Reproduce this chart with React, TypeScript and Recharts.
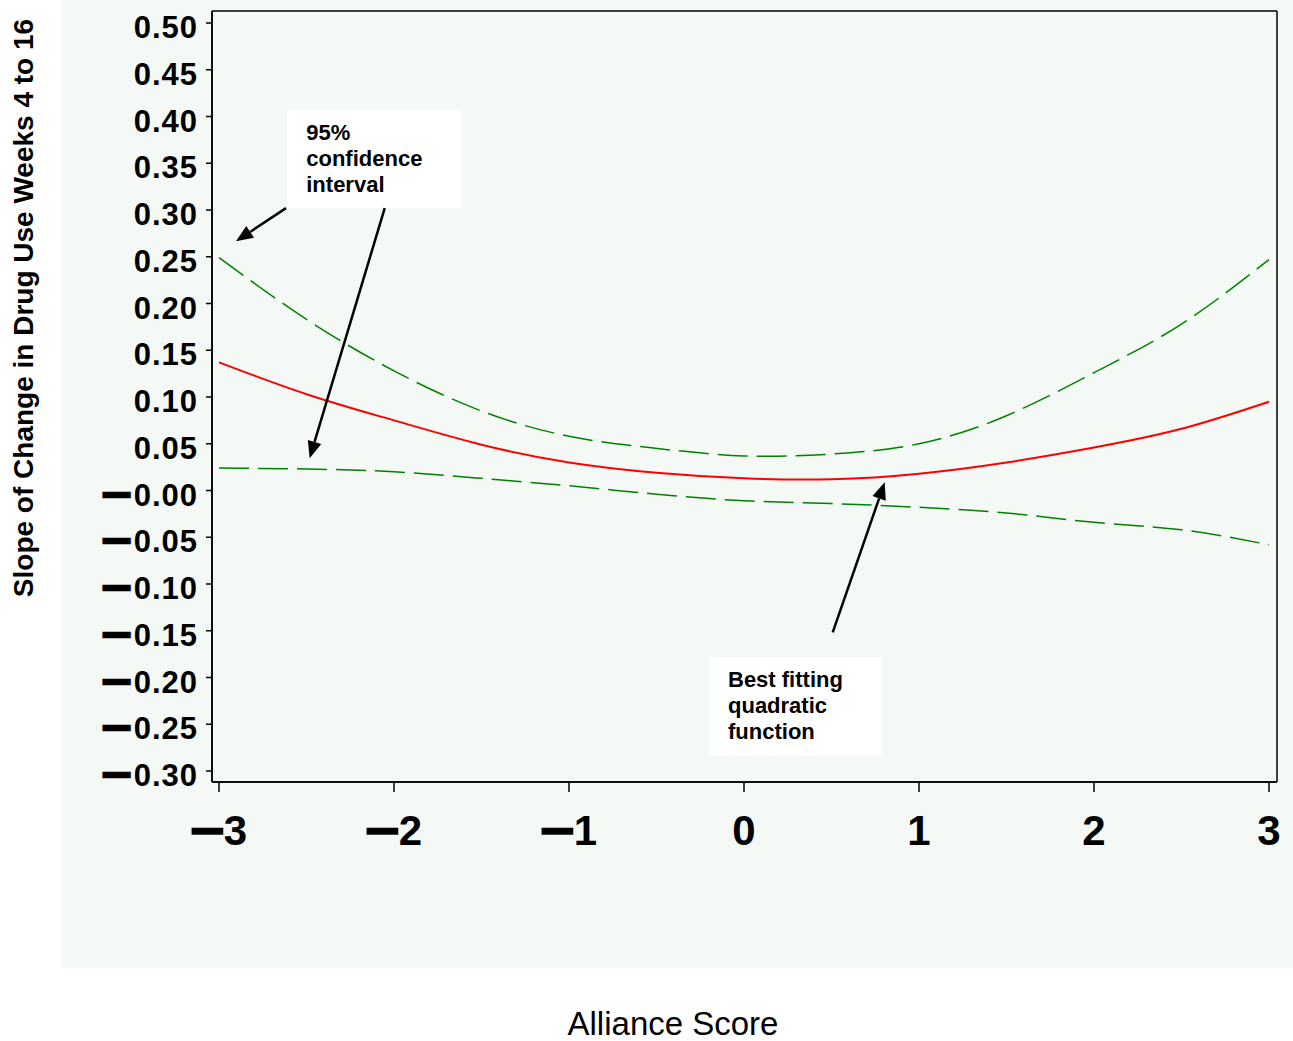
import React from "react"
import {
  LineChart, Line, XAxis, YAxis, CartesianGrid, ReferenceArea, ReferenceLine,
} from "recharts"

// values
const alliance = [-3, -2.5, -2, -1.5, -1, -0.5, 0, 0.5, 1, 1.5, 2, 2.5, 3]
const fitted   = [0.137, 0.103, 0.075, 0.049, 0.030, 0.019, 0.013, 0.012, 0.018, 0.030, 0.046, 0.066, 0.095]
const upperCI  = [0.249, 0.183, 0.128, 0.085, 0.058, 0.045, 0.037, 0.039, 0.050, 0.080, 0.126, 0.178, 0.247]
const lowerCI  = [0.024, 0.023, 0.020, 0.013, 0.005, -0.004, -0.011, -0.014, -0.018, -0.024, -0.034, -0.042, -0.058]

const xTicks = [-3, -2, -1, 0, 1, 2, 3]
const xTickLabels = ["−3", "−2", "−1", "0", "1", "2", "3"]
const yTicks = [0.5, 0.45, 0.4, 0.35, 0.3, 0.25, 0.2, 0.15, 0.1, 0.05, 0, -0.05, -0.1, -0.15, -0.2, -0.25, -0.3]
const yTickLabels = [
  "0.50", "0.45", "0.40", "0.35", "0.30", "0.25", "0.20", "0.15", "0.10", "0.05",
  "−0.00", "−0.05", "−0.10", "−0.15", "−0.20", "−0.25", "−0.30",
]

const ciNote = ["95%", "confidence", "interval"]
const fitNote = ["Best fitting", "quadratic", "function"]

const FONT = "'Liberation Sans', Arial, Helvetica, sans-serif"
const GREEN = "#008000"

const rows = alliance.map((x, i) => ({
  x, fitted: fitted[i], upper: upperCI[i], lower: lowerCI[i],
}))

function splitMinus(label: string) {
  return label.startsWith("−") ? ["−", label.slice(1)] : ["", label]
}

function YTick({ x, y, payload }: any) {
  const idx = yTicks.findIndex(t => Math.abs(t - payload.value) < 1e-9)
  const [minus, rest] = splitMinus(yTickLabels[idx] ?? "")
  return (
    <text x={x - 8} y={y + 15} textAnchor="end" fontFamily={FONT} fontSize={31}
      fontWeight="bold" fill="#000">
      {minus && (
        <tspan fontSize={36} dy={1} textLength={29} lengthAdjust="spacingAndGlyphs"
          stroke="#000" strokeWidth={2.5}>{minus}</tspan>
      )}
      <tspan dy={minus ? -1 : 0} dx={minus ? 3 : 0} letterSpacing={1}>{rest}</tspan>
    </text>
  )
}

function XTick({ x, y, payload }: any) {
  const idx = xTicks.indexOf(payload.value)
  const [minus, rest] = splitMinus(xTickLabels[idx] ?? "")
  return (
    <text x={x} y={y + 53} textAnchor="middle" fontFamily={FONT} fontSize={42}
      fontWeight="bold" fill="#000">
      {minus && (
        <tspan textLength={33} lengthAdjust="spacingAndGlyphs"
          stroke="#000" strokeWidth={2.5}>{minus}</tspan>
      )}
      <tspan>{rest}</tspan>
    </text>
  )
}

function NoteBox(lines: string[]) {
  return (props: any) => {
    const { x, y, width, height } = props
    return (
      <g>
        <rect x={x} y={y} width={width} height={height} fill="#fff" />
        <text fontFamily={FONT} fontSize={22} fontWeight="bold" fill="#000">
          {lines.map((l, i) => (
            <tspan key={i} x={x + 19} y={y + 30 + i * 26}>{l}</tspan>
          ))}
        </text>
      </g>
    )
  }
}

function Arrow(props: any) {
  const { x1, y1, x2, y2 } = props
  const dx = x2 - x1, dy = y2 - y1
  const len = Math.hypot(dx, dy)
  const ux = dx / len, uy = dy / len
  const hl = 17, hw = 7
  const bx = x2 - ux * hl, by = y2 - uy * hl
  return (
    <g>
      <line x1={x1} y1={y1} x2={bx} y2={by} stroke="#000" strokeWidth={2.5} />
      <polygon
        points={`${x2},${y2} ${bx - uy * hw},${by + ux * hw} ${bx + uy * hw},${by - ux * hw}`}
        fill="#000"
      />
    </g>
  )
}

export default function App() {
  return (
    <div style={{ position: "absolute", left: 0, top: 0, width: 1293, height: 1041, background: "#fff" }}>
      <div style={{ position: "absolute", left: 62, top: 0, width: 1231, height: 968, background: "#f4f9f5" }} />

      <div style={{ position: "absolute", left: 0, top: 0 }}>
        <LineChart width={1293} height={1041} data={rows}
          margin={{ top: 11, right: 16, left: 0, bottom: 0 }}>
          {/* plot frame */}
          <CartesianGrid stroke="#000" strokeWidth={1.5}
            horizontalCoordinatesGenerator={({ offset }: any) => [offset.top, offset.top + offset.height]}
            verticalCoordinatesGenerator={({ offset }: any) => [offset.left, offset.left + offset.width]} />
          <XAxis dataKey="x" type="number" domain={[-3, 3]} ticks={xTicks} interval={0}
            padding={{ left: 7, right: 8 }} height={259} tickSize={10} tickMargin={0}
            axisLine={{ stroke: "#000", strokeWidth: 1.5 }} tickLine={{ stroke: "#000", strokeWidth: 1.5 }}
            tick={<XTick />} />
          <YAxis type="number" domain={[-0.3, 0.5]} ticks={yTicks} interval={0}
            padding={{ top: 12, bottom: 11 }} width={212} tickSize={6} tickMargin={0}
            axisLine={{ stroke: "#000", strokeWidth: 1.5 }} tickLine={{ stroke: "#000", strokeWidth: 1.5 }}
            tick={<YTick />} />

          <ReferenceArea x1={-2.61} x2={-1.62} y1={0.302} y2={0.407} shape={NoteBox(ciNote)} />
          <ReferenceArea x1={-0.20} x2={0.79} y1={-0.284} y2={-0.178} shape={NoteBox(fitNote)} />

          <Line type="natural" dataKey="upper" stroke={GREEN} strokeWidth={1.5}
            strokeDasharray="30 9" dot={false} isAnimationActive={false} />
          <Line type="natural" dataKey="lower" stroke={GREEN} strokeWidth={1.5}
            strokeDasharray="30 9" dot={false} isAnimationActive={false} />
          <Line type="natural" dataKey="fitted" stroke="#ff0000" strokeWidth={2}
            dot={false} isAnimationActive={false} />

          <ReferenceLine segment={[{ x: -2.617, y: 0.302 }, { x: -2.903, y: 0.2665 }]} shape={Arrow} />
          <ReferenceLine segment={[{ x: -2.053, y: 0.302 }, { x: -2.482, y: 0.0345 }]} shape={Arrow} />
          <ReferenceLine segment={[{ x: 0.507, y: -0.1517 }, { x: 0.804, y: 0.0088 }]} shape={Arrow} />
        </LineChart>
      </div>

      <div style={{
        position: "absolute", left: 24, top: 308, transform: "translate(-50%, -50%) rotate(-90deg)",
        whiteSpace: "nowrap", fontFamily: FONT, fontWeight: "bold", fontSize: 28, lineHeight: "28px",
      }}>
        Slope of Change in Drug Use Weeks 4 to 16
      </div>
      <div style={{
        position: "absolute", left: 673, top: 1007, transform: "translateX(-50%)",
        whiteSpace: "nowrap", fontFamily: FONT, fontSize: 33, lineHeight: "33px",
      }}>
        Alliance Score
      </div>
    </div>
  )
}
